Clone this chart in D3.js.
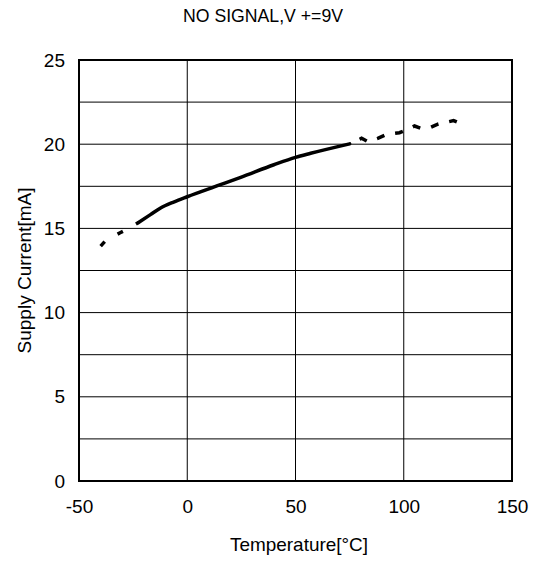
<!DOCTYPE html>
<html><head><meta charset="utf-8">
<script src="https://cdn.jsdelivr.net/npm/d3@7"></script>
<style>body{margin:0;background:#fff;} text{font-family:"Liberation Sans",Arial,sans-serif;fill:#000;}</style>
</head><body>
<svg id="c" width="534" height="561"></svg>
<script>
const title = "NO SIGNAL,V +=9V";
const xTicks = [-50, 0, 50, 100, 150];
const yTicks = [0, 5, 10, 15, 20, 25];
const yGrid = [2.5, 5, 7.5, 10, 12.5, 15, 17.5, 20, 22.5];
// measured (solid) range
const solidT = [-22.5, -17, -12.5, -6, 0, 15, 25, 40, 50, 57, 75];
const solidI = [15.35, 15.82, 16.2, 16.58, 16.88, 17.58, 18.05, 18.78, 19.22, 19.46, 20.02];
// extrapolated (dashed) ranges
const lowT = [-40, -37.5, -31, -28.5, -22.5];
const lowI = [13.95, 14.3, 14.74, 14.9, 15.35];
const highT = [75, 80.5, 83.5, 88, 92, 98, 101.5, 105, 108, 112.5, 116, 123, 126];
const highI = [20.02, 20.35, 20.15, 20.35, 20.58, 20.68, 20.85, 21.08, 20.94, 21.0, 21.2, 21.4, 21.24];

const svg = d3.select("#c");
const x = d3.scaleLinear().domain([-50, 150]).range([79, 512]);
const y = d3.scaleLinear().domain([0, 25]).range([481, 60]);
const FONT = "Liberation Sans, Arial, sans-serif";

// grid
svg.append("g").selectAll("line").data(xTicks.slice(1, -1)).join("line")
  .attr("x1", d => x(d)).attr("x2", d => x(d)).attr("y1", y(0)).attr("y2", y(25))
  .attr("stroke", "#000").attr("stroke-width", 1);
svg.append("g").selectAll("line").data(yGrid).join("line")
  .attr("x1", x(-50)).attr("x2", x(150)).attr("y1", d => y(d)).attr("y2", d => y(d))
  .attr("stroke", "#000").attr("stroke-width", 1);
// frame
svg.append("rect").attr("x", x(-50)).attr("y", y(25))
  .attr("width", x(150) - x(-50)).attr("height", y(0) - y(25))
  .attr("fill", "none").attr("stroke", "#000").attr("stroke-width", 2);

// axes labels via d3 axes
const xAxis = svg.append("g").attr("transform", `translate(0,${y(0)})`)
  .call(d3.axisBottom(x).tickValues(xTicks).tickSize(0).tickPadding(19).tickFormat(d => String(d)));
xAxis.select(".domain").remove();
xAxis.selectAll("text").attr("font-size", 19).attr("font-family", FONT).attr("fill", "#000");
const yAxis = svg.append("g").attr("transform", `translate(${x(-50)},0)`)
  .call(d3.axisLeft(y).tickValues(yTicks).tickSize(0).tickPadding(14).tickFormat(d => String(d)));
yAxis.select(".domain").remove();
yAxis.selectAll("text").attr("font-size", 19).attr("font-family", FONT).attr("fill", "#000");

const line = d3.line().x(d => x(d[0])).y(d => y(d[1]));
const smooth = d3.line().x(d => x(d[0])).y(d => y(d[1])).curve(d3.curveMonotoneX);
const mk = (T, I) => T.map((t, i) => [t, I[i]]);
svg.append("path").datum(mk(lowT, lowI)).attr("d", line)
  .attr("fill", "none").attr("stroke", "#000").attr("stroke-width", 3.5)
  .attr("stroke-dasharray", "6,15");
svg.append("path").datum(mk(solidT, solidI)).attr("d", smooth)
  .attr("fill", "none").attr("stroke", "#000").attr("stroke-width", 3.5).attr("stroke-linecap", "round");
svg.append("path").datum(mk(highT, highI)).attr("d", line)
  .attr("fill", "none").attr("stroke", "#000").attr("stroke-width", 3.5)
  .attr("stroke-dasharray", "8,11").attr("stroke-dashoffset", 8);

// titles
svg.append("text").attr("x", 263).attr("y", 22).attr("text-anchor", "middle")
  .attr("font-size", 18).attr("textLength", 160).attr("lengthAdjust", "spacingAndGlyphs").text(title);
svg.append("text").attr("x", 299).attr("y", 551).attr("text-anchor", "middle")
  .attr("font-size", 19).attr("textLength", 138).attr("lengthAdjust", "spacingAndGlyphs").text("Temperature[°C]");
svg.append("text").attr("transform", `translate(31,${(y(0) + y(25)) / 2}) rotate(-90)`)
  .attr("text-anchor", "middle").attr("font-size", 19).attr("textLength", 166).attr("lengthAdjust", "spacingAndGlyphs").text("Supply Current[mA]");
</script>
</body></html>
